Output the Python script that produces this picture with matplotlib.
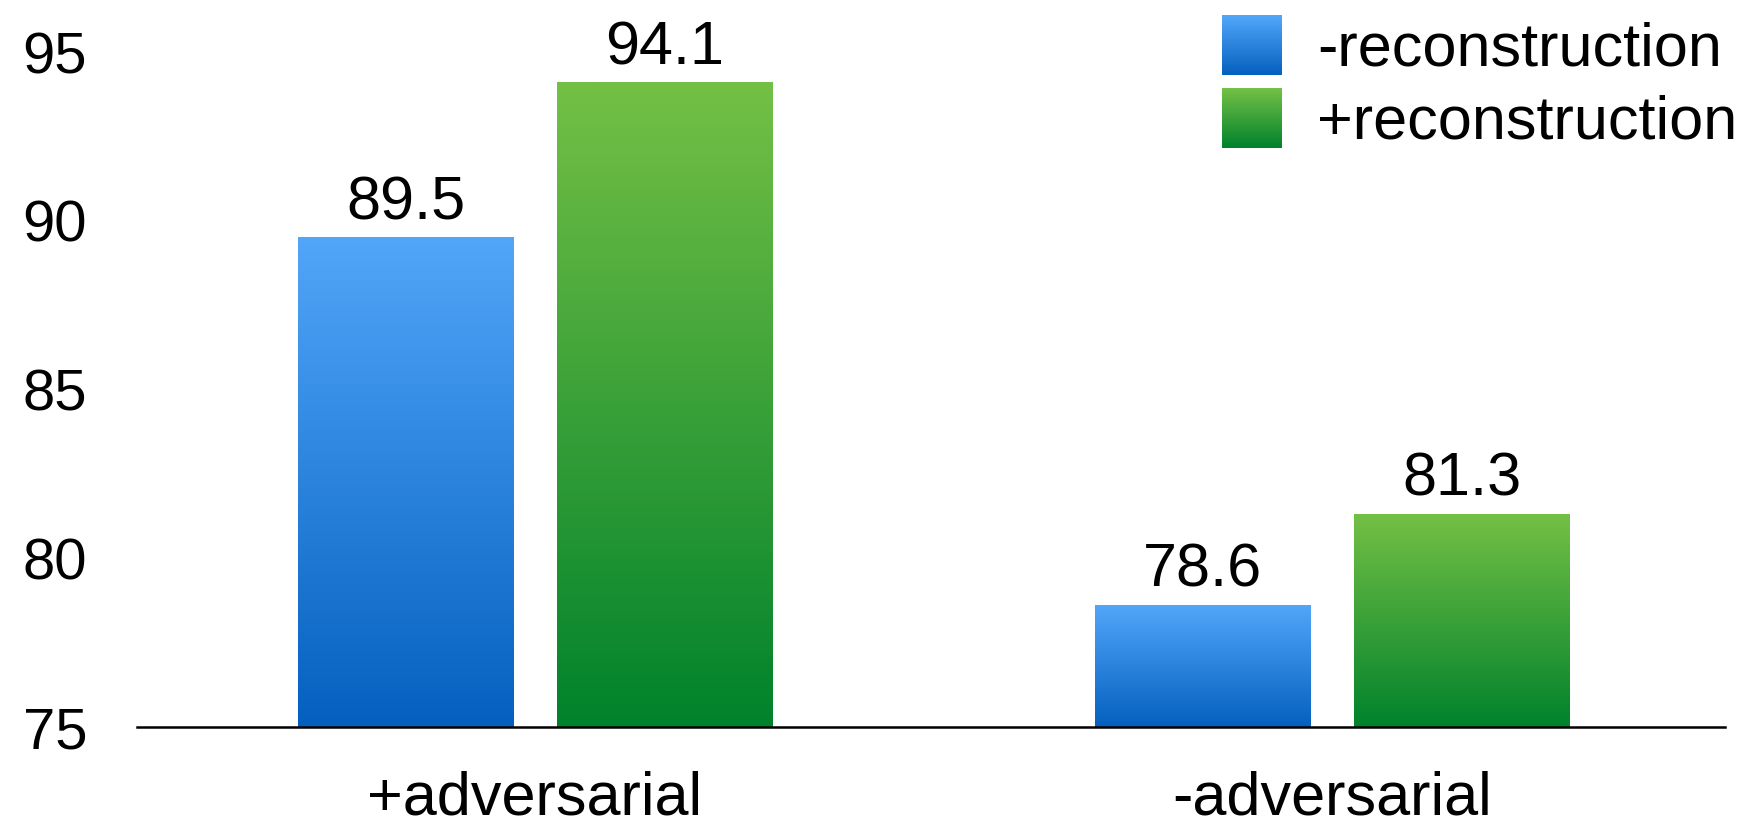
import numpy as np
import matplotlib
matplotlib.use("Agg")
import matplotlib.pyplot as plt
from matplotlib.colors import LinearSegmentedColormap
from matplotlib.legend_handler import HandlerBase
from matplotlib.patches import Rectangle

# Data
categories = ["+adversarial", "-adversarial"]
series_names = ["-reconstruction", "+reconstruction"]
minus_recon = [89.5, 78.6]
plus_recon = [94.1, 81.3]
yticks = [75, 80, 85, 90, 95]

plt.rcParams["font.family"] = ["Liberation Sans", "DejaVu Sans"]

FS = 44
blue_cmap = LinearSegmentedColormap.from_list("blue_grad", ["#0460BF", "#52A6F9"])
green_cmap = LinearSegmentedColormap.from_list("green_grad", ["#00822C", "#74C045"])
ramp = np.linspace(0, 1, 256).reshape(-1, 1)


class GradientHandler(HandlerBase):
    """Legend swatch filled with a vertical colour ramp."""

    def __init__(self, cmap, n=48):
        super().__init__()
        self.cmap = cmap
        self.n = n

    def create_artists(self, legend, orig_handle, xdescent, ydescent,
                       width, height, fontsize, trans):
        x0 = -xdescent
        y0 = -ydescent
        arts = []
        for i in range(self.n):
            r = Rectangle((x0, y0 + height * i / self.n), width, height / self.n * 1.05,
                          facecolor=self.cmap(i / (self.n - 1)),
                          edgecolor="none", linewidth=0, transform=trans)
            arts.append(r)
        return arts


fig = plt.figure(figsize=(17.56, 8.3), dpi=100)
ax = fig.add_axes([137 / 1756, 103 / 830, 1588 / 1756, 727 / 830])

x = np.arange(len(categories))
width = 0.271
offset = 0.1625
bars_a = ax.bar(x - offset, minus_recon, width, bottom=0, facecolor="none", edgecolor="none")
bars_b = ax.bar(x + offset, plus_recon, width, bottom=0, facecolor="none", edgecolor="none")

ymin = 75
for bars, cmap in ((bars_a, blue_cmap), (bars_b, green_cmap)):
    for rect in bars:
        x0 = rect.get_x()
        x1 = x0 + rect.get_width()
        top = rect.get_height()
        ax.imshow(ramp, cmap=cmap, extent=[x0, x1, ymin, top], origin="lower",
                  aspect="auto", interpolation="bilinear", zorder=2)
        ax.annotate(f"{top:.1f}", xy=(rect.get_x() + rect.get_width() / 2, top),
                    xytext=(0, 4), textcoords="offset points",
                    ha="center", va="bottom", fontsize=FS, color="black")

ax.set_xlim(-0.4994, 1.493)
ax.set_ylim(ymin, 96.55)
ax.set_aspect("auto")

ax.set_yticks(yticks)
ax.set_yticklabels([str(t) for t in yticks])
ax.set_xticks(x)
ax.set_xticklabels(categories)
ax.tick_params(axis="y", length=0, pad=36, labelsize=FS * 0.95)
ax.tick_params(axis="x", length=0, pad=31, labelsize=FS)

for side in ("left", "right", "top"):
    ax.spines[side].set_visible(False)
ax.spines["bottom"].set_linewidth(1.8)
ax.spines["bottom"].set_color("black")
ax.spines["bottom"].set_zorder(3)

leg = ax.legend([bars_a, bars_b], series_names,
                handler_map={bars_a: GradientHandler(blue_cmap),
                             bars_b: GradientHandler(green_cmap)},
                loc="upper left", bbox_to_anchor=(1222 / 1756, 1 - 15 / 830),
                bbox_transform=fig.transFigure, frameon=False, fontsize=FS,
                handlelength=0.98, handleheight=1.134, handletextpad=0.58,
                labelspacing=0.15, borderpad=0, borderaxespad=0)

fig.savefig("out.png", dpi=100, facecolor="white")
